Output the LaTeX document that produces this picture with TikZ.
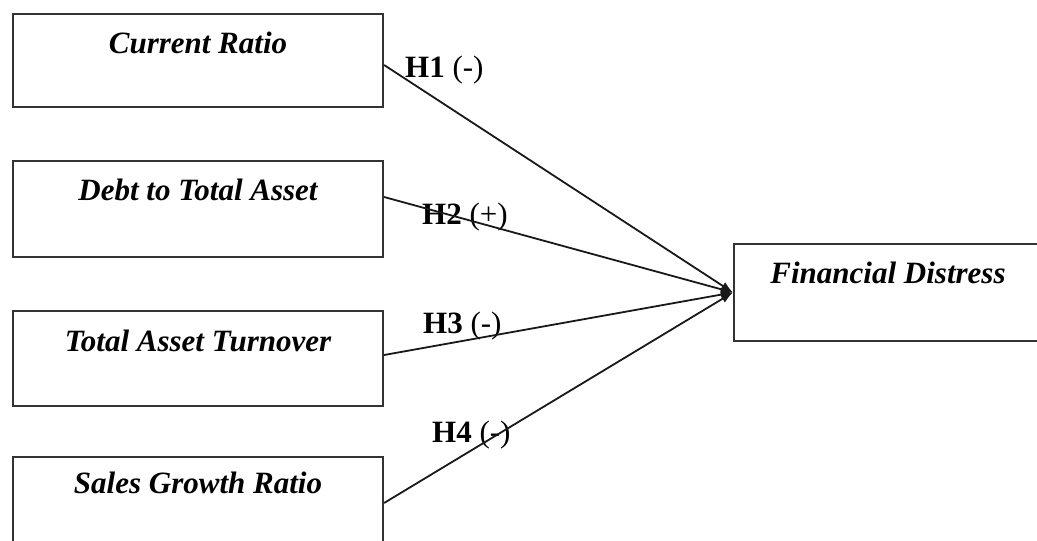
\documentclass[tikz,border=0pt]{standalone}
\usepackage{fontspec}
\setmainfont{Liberation Serif}
\usetikzlibrary{arrows.meta}

\begin{document}
\begin{tikzpicture}[x=1pt,y=-1pt,
  varbox/.style={draw=black!80, line width=2.2pt, minimum width=370pt,
    minimum height=95pt, inner sep=0pt,
    font=\fontsize{31}{36}\selectfont\bfseries\itshape,
    text height=22pt, text depth=40pt},
  hyp/.style={font=\fontsize{31}{36}\selectfont, anchor=base west, inner sep=0pt},
  link/.style={line width=1.8pt, black!90, -{Latex[length=12pt,width=9pt]}}]
  \useasboundingbox (0,0) rectangle (1037,541);
  \clip (0,0) rectangle (1037,541);
  % independent variables
  \node[varbox, minimum height=93pt, text depth=37pt] (cr) at (198,60.5) {Current Ratio};
  \node[varbox, minimum height=96pt] (dta) at (198,209) {Debt to Total Asset};
  \node[varbox, text depth=37pt] (tat) at (198,358.5) {Total Asset Turnover};
  \node[varbox, text depth=45pt] (sgr) at (198,504.5) {Sales Growth Ratio};
  % dependent variable
  \node[varbox, minimum width=308pt, minimum height=97pt, text depth=41pt] (fd) at (888,292.5) {Financial Distress};
  % hypotheses
  \node[hyp] (h1) at (405,77) {\textbf{H1} (-)};
  \node[hyp] (h2) at (422,224) {\textbf{H2} (+)};
  \node[hyp] (h3) at (423,333) {\textbf{H3} (-)};
  \node[hyp] (h4) at (432,442) {\textbf{H4} (-)};
  \draw[link] ([yshift=-4.5pt]cr.east) -- (fd.west);
  \draw[link] ([yshift=12pt]dta.east) -- (fd.west);
  \draw[link] ([yshift=3.5pt]tat.east) -- (fd.west);
  \draw[link] ([yshift=1.5pt]sgr.east) -- (fd.west);
\end{tikzpicture}
\end{document}
